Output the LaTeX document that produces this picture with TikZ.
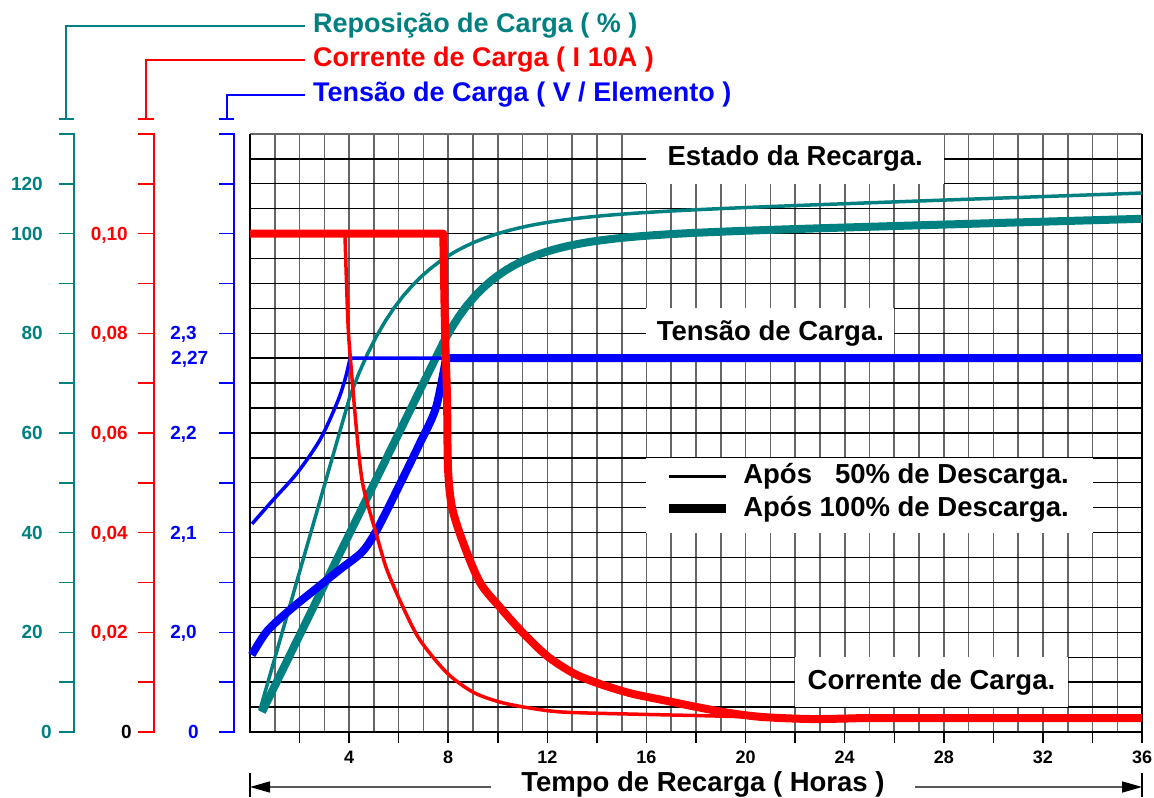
\documentclass[tikz,border=0pt]{standalone}
\usepackage{fontspec}
\setmainfont{Liberation Sans}
\usepackage{xcolor}
\usetikzlibrary{positioning,arrows.meta}
\definecolor{verdeagua}{RGB}{0,128,128}
\tikzset{
  gradev/.style={draw=black!60, line width=1.6pt},
  gradeh/.style={draw=black, line width=1.4pt},
  curva50/.style={line width=3.5pt, line join=round},
  curva100/.style={line width=8pt, line join=round},
  eixo/.style={line width=2.5pt},
  traco/.style={line width=1.5pt},
  numero/.style={font=\fontsize{19}{22}\selectfont\bfseries, inner sep=0pt, text depth=0pt},
  hora/.style={font=\fontsize{18}{20}\selectfont\bfseries, inner sep=0pt, text depth=0pt},
  titulo/.style={font=\fontsize{27}{30}\selectfont\bfseries, anchor=west, inner xsep=8pt, inner ysep=0pt},
  rotulo/.style={font=\fontsize{27.5}{30}\selectfont\bfseries, inner sep=0pt},
  seta/.style={draw=gray!70!black, line width=1.5pt, -{Triangle[length=20pt,width=11pt,color=black]}},
}
\begin{document}
\begin{tikzpicture}[x=24.78pt, y=24.92pt]
\useasboundingbox (-10.089,-2.648) rectangle (36.481,29.374);
\fill[white] (-10.089,-2.648) rectangle (36.481,29.374);
% grade
\foreach \i in {1,...,35} \draw[gradev] (\i,0) -- (\i,24);
\foreach \j in {1,...,23} \draw[gradeh] (0,\j) -- (36,\j);
\fill[white] (16,22) rectangle (28,24);
\fill[white] (16,15) rectangle (26,17);
\fill[white] (16,8) rectangle (34,11);
\fill[white] (22,1) rectangle (33,3);
\draw[gradev] (0,24) -- (36,24);
\draw[line width=2.5pt] (0,24) -- (0,0) -- (36,0) -- (36,24);
\foreach \i in {2,4,...,36} \draw[traco] (\i,0) -- (\i,-0.44);
\foreach \i in {4,8,...,36} \node[hora] (h\i) at (\i,-1.0) {\i};
% eixos da esquerda
\draw[eixo, verdeagua] (-7.708,24) -- (-7.102,24) -- (-7.102,0) -- (-7.708,0);
\foreach \j in {2,4,...,22} \draw[traco, verdeagua] (-7.708,\j) -- (-7.102,\j);
\draw[traco, verdeagua] (-7.708,24.6) -- (-7.102,24.6);
\coordinate (capverde) at (-7.425,24.6);
\draw[eixo, red] (-4.52,24) -- (-3.874,24) -- (-3.874,0) -- (-4.52,0);
\foreach \j in {2,4,...,22} \draw[traco, red] (-4.52,\j) -- (-3.874,\j);
\draw[traco, red] (-4.52,24.6) -- (-3.874,24.6);
\coordinate (capvermelho) at (-4.197,24.6);
\draw[eixo, blue] (-1.251,24) -- (-0.646,24) -- (-0.646,0) -- (-1.251,0);
\foreach \j in {2,4,...,22} \draw[traco, blue] (-1.251,\j) -- (-0.646,\j);
\draw[traco, blue] (-1.251,24.6) -- (-0.646,24.6);
\coordinate (capazul) at (-0.928,24.6);
% titulos
\node[titulo, text=verdeagua] (reposicao) at (2.22,28.33) {Reposição de Carga ( \% )};
\node[titulo, text=red] (corrtit) at (2.22,26.97) {Corrente de Carga ( I 10A )};
\node[titulo, text=blue] (tenstit) at (2.22,25.56) {Tensão de Carga ( V / Elemento )};
\draw[traco, verdeagua] (reposicao.west) -| (capverde);
\draw[traco, red] (corrtit.west) -| (capvermelho);
\draw[traco, blue] (tenstit.west) -| (capazul);
% numeros
\foreach \v/\j in {20/4,40/8,60/12,80/16,100/20,120/22}
  \node[numero, text=verdeagua, anchor=east] (rp\v) at (-8.353,\j) {\v};
\node[numero, text=verdeagua, anchor=east] (rp0) at (-7.99,0) {0};
\foreach \v/\j in {02/4,04/8,06/12,08/16,10/20}
  \node[numero, text=red, anchor=east] (ic\v) at (-4.923,\j) {0,\v};
\node[numero, anchor=east] (ic0) at (-4.762,0) {0};
\foreach \v/\j in {0/4,1/8,2/12,3/16}
  \node[numero, text=blue, anchor=east] (tv\v) at (-2.139,\j) {2,\v};
\node[numero, text=blue, anchor=west] (tv27) at (-3.188,15) {2,27};
\node[numero, text=blue, anchor=east] (tv00) at (-2.058,0) {0};
% reposicao de carga
\draw[curva50, verdeagua] (0.4,0.88) -- plot[domain=4.04:36, samples=90] (\x,{20.35+0.0355*\x-7*exp(-(\x-4.04)/2.6)});
\draw[curva100, verdeagua] (0.48,0.8) -- plot[domain=7.79:36, samples=90] (\x,{19.55+0.029*\x-4.17*exp(-(\x-7.79)/2.2)});
% tensao de carga
\draw[curva50, blue] plot[smooth] coordinates {(0.08,8.35) (0.93,9.31) (1.9,10.39) (2.82,11.72) (3.51,13.2) (3.83,14.13) (4.04,15.0)} -- (7.8,15.0);
\draw[curva100, blue] plot[smooth] coordinates {(0.07,3.09) (0.69,4.05) (1.61,4.9) (2.6,5.7) (3.6,6.5) (4.5,7.2) (5.0,7.9) (5.53,8.9) (6.2,10.25) (6.86,11.6) (7.5,13.0) (7.91,15.0)} -- (36,15.0);
% corrente de carga
\draw[curva50, red] (0,20) -- (3.83,20) -- plot[smooth] coordinates {(3.83,20) (3.95,16.5) (4.05,15) (4.31,12) (4.56,9.9) (5.13,7.83) (5.53,6.5) (6.17,5.02) (6.86,3.69) (7.95,2.37) (9.0,1.6) (10.09,1.2) (11.3,0.96) (12.63,0.8) (15.33,0.72) (18.04,0.66) (20.58,0.6) (24,0.56)} -- (36,0.56);
\draw[curva100, red] (0,20) -- (7.8,20) -- plot[smooth] coordinates {(7.8,20) (7.87,16.13) (7.95,13.44) (7.99,10.6) (8.15,9.03) (8.6,7.6) (9.28,6.0) (10.09,5.0) (11.02,3.97) (11.99,3.05) (13.03,2.37) (14.0,1.97) (15.33,1.56) (16.67,1.28) (18.04,1.0) (19.37,0.76) (20.7,0.6) (22.72,0.52) (24.74,0.56)} -- (36,0.56);
% rotulos
\node[rotulo] (estado) at (22,23) {Estado da Recarga.};
\node[rotulo] (tensao) at (21,16) {Tensão de Carga.};
\node[rotulo] (corrente) at (27.5,2) {Corrente de Carga.};
\node[rotulo, anchor=west] (leg50) at (19.9,10.27) {Após \phantom{1}50\% de Descarga.};
\node[rotulo, anchor=west] (leg100) at (19.9,8.95) {Após 100\% de Descarga.};
\draw[line width=3pt] ([xshift=-74pt]leg50.west) -- ([xshift=-17pt]leg50.west);
\draw[line width=9pt] ([xshift=-74pt]leg100.west) -- ([xshift=-17pt]leg100.west);
% tempo
\coordinate (t0) at (0,-2.207);
\coordinate (t36) at (36,-2.207);
\draw[traco] (0,-1.645) -- (0,-2.608);
\draw[traco] (36,-1.645) -- (36,-2.608);
\node[rotulo, inner xsep=30pt, anchor=base] (tempo) at (18.28,-2.37) {Tempo de Recarga ( Horas )};
\draw[seta] (tempo.west |- t0) -- (t0);
\draw[seta] (tempo.east |- t0) -- (t36);
\end{tikzpicture}
\end{document}
